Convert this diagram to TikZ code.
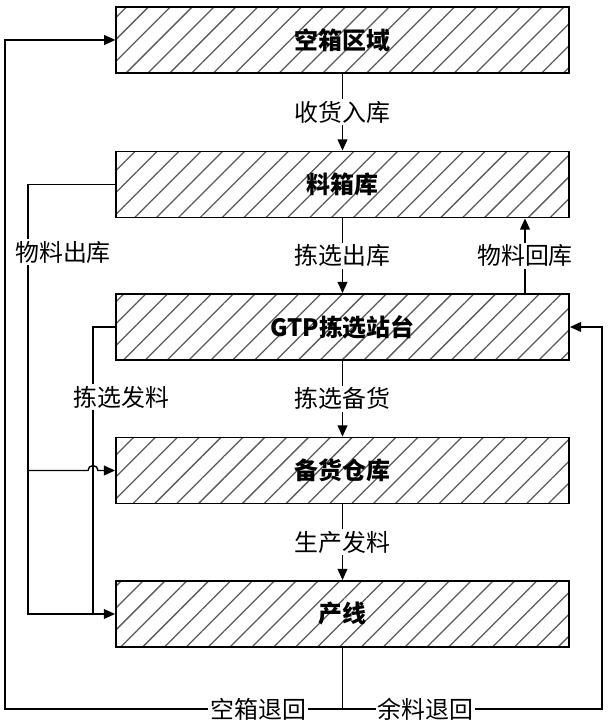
\documentclass[tikz,border=0pt]{standalone}
\usepackage{fontspec}
\setmainfont{Noto Sans CJK SC}
\usetikzlibrary{arrows.meta,patterns.meta}

\tikzset{
  area/.style={draw, line width=1.3pt, minimum width=11.325cm, minimum height=1.65cm,
    inner sep=0pt, font=\fontsize{17}{20}\selectfont\bfseries,
    pattern={Lines[angle=45,distance=11pt,line width=0.9pt]}, pattern color=black!65},
  lab/.style={fill=white, inner sep=1.5pt, font=\fontsize{17}{20}\selectfont},
  conn/.style={line width=1pt, -{Triangle[length=8pt,width=7pt]}},
  plain/.style={line width=1pt}
}

\begin{document}
\begin{tikzpicture}
\useasboundingbox (0,0) rectangle (15.25,18.1);

% boxes
\node[area] (kx) at (8.5625,17.1) {空箱区域};
\node[area] (lxk) at (8.5625,13.4875) {料箱库};
\node[area] (gtp) at (8.5625,9.925) {GTP拣选站台};
\node[area] (bh) at (8.5625,6.3375) {备货仓库};
\node[area] (cx) at (8.5625,2.75) {产线};

\coordinate (a1) at (0.7,0);
\coordinate (a2) at (2.325,0);
\coordinate (r1) at (13.125,0);
\coordinate (e1) at (0.125,0.375);
\coordinate (e2) at (15.05,0.375);
\coordinate (m) at (cx.south |- e1);

% main flow
\draw[conn] (kx) -- node[lab]{收货入库} (lxk);
\draw[conn] (lxk) -- node[lab]{拣选出库} (gtp);
\draw[conn] (gtp) -- node[lab]{拣选备货} (bh);
\draw[conn] (bh) -- node[lab]{生产发料} (cx);
\draw[conn] (gtp.north -| r1) -- node[lab]{物料回库} (lxk.south -| r1);

% left side
\draw[conn] (lxk.west) -| (a1 |- cx.west) -- (cx.west);
\draw[conn] (a1 |- bh.west) -- ([xshift=-0.125cm]a2 |- bh.west)
  arc[start angle=180,end angle=0,radius=0.125cm] -- (bh.west);
\draw[plain] (gtp.west) -| (a2 |- cx.west);
\node[lab] (wlck) at (1.575,11.8) {物料出库};
\node[lab] (jxfl) at (3.04,8.175) {拣选发料};

% returns
\draw[conn] (cx.south) -- (m) -- node[lab,pos=0.25]{空箱退回} (e1) |- (kx.west);
\draw[conn] (m) -- node[lab,pos=0.32]{余料退回} (e2) |- (gtp.east);
\end{tikzpicture}
\end{document}
